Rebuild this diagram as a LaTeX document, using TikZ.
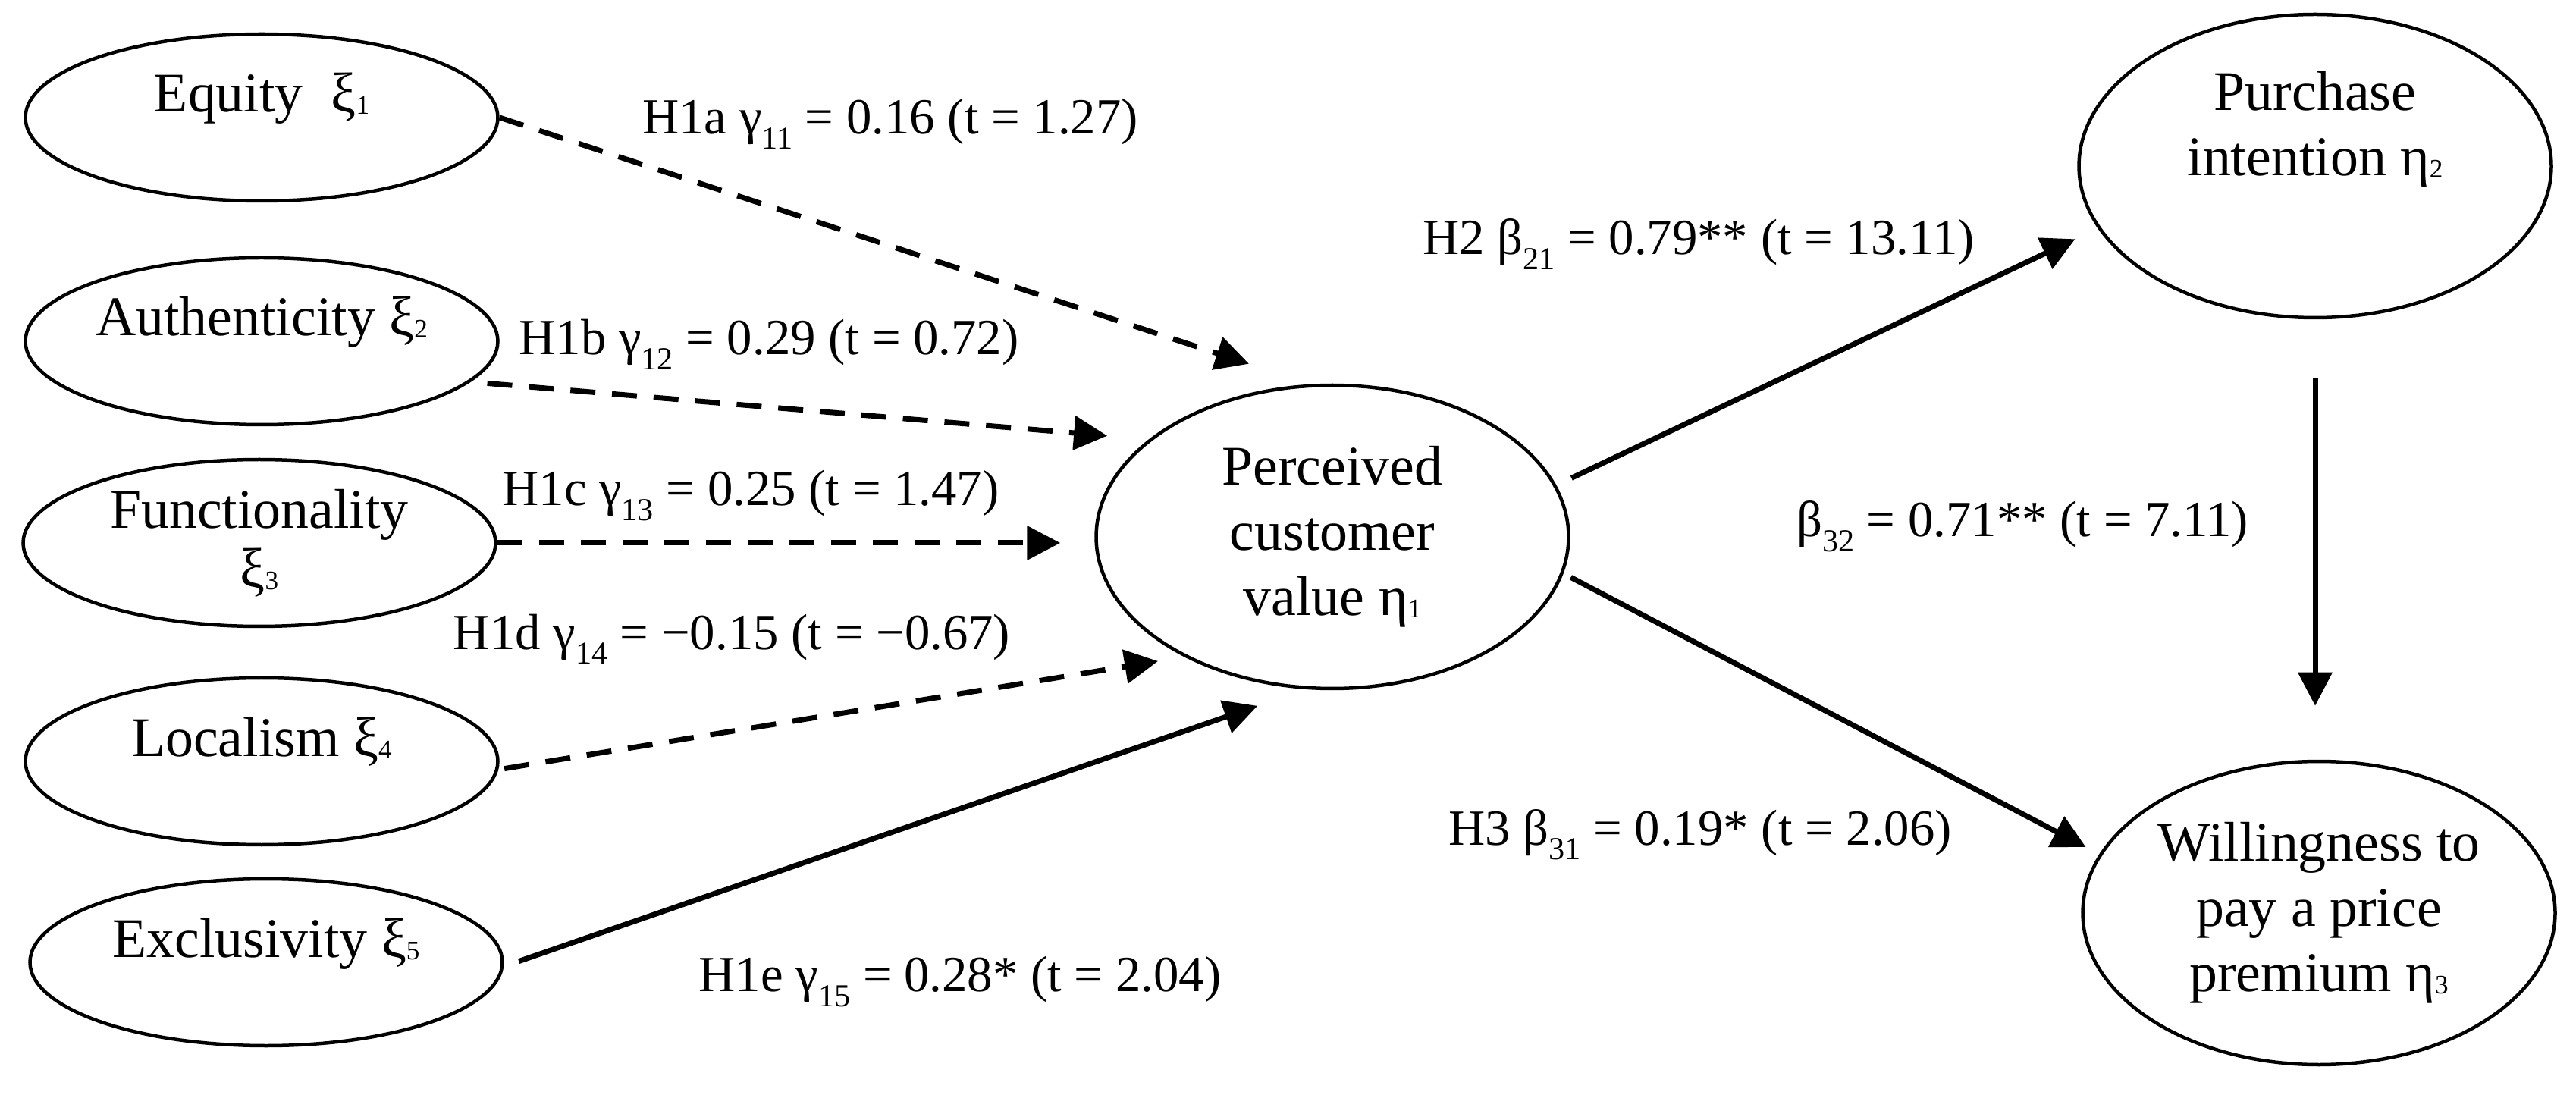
\documentclass[tikz,border=0pt]{standalone}
\usepackage{fontspec}
\setmainfont{Liberation Serif}
\usetikzlibrary{shapes.geometric,arrows.meta}
\newcommand{\nsub}[1]{\raisebox{-0.03cm}{\fontsize{10}{10}\selectfont #1}}
\newcommand{\lsub}[1]{\raisebox{-0.2cm}{\fontsize{12}{12}\selectfont #1}}
\begin{document}
\begin{tikzpicture}[>={Triangle[length=0.44cm,width=0.44cm]},
	latent/.style={ellipse,draw,line width=0.045cm,inner sep=0pt,minimum width=6.23cm,minimum height=4cm,font=\fontsize{21}{24.5}\selectfont},
	factor/.style={latent,minimum height=2.2cm},
	oneline/.style={factor,text height=0.5cm,text depth=0.64cm},
	sig/.style={->,line width=0.07cm},
	nsig/.style={sig,dash pattern=on 0.33cm off 0.22cm},
	coef/.style={anchor=base,inner sep=0pt,font=\fontsize{19}{22}\selectfont}]
		\useasboundingbox (0,0) rectangle (33.97,-14.44);
		\node[oneline] (eq) at (3.45,-1.55) {Equity~~ξ\nsub{1}};
		\node[oneline] (au) at (3.45,-4.50) {Authenticity ξ\nsub{2}};
		\node[factor,align=center] (fn) at (3.42,-7.16) {Functionality\\[-0.08cm]ξ\nsub{3}};
		\node[oneline] (lo) at (3.45,-10.04) {Localism ξ\nsub{4}};
		\node[oneline] (ex) at (3.51,-12.69) {Exclusivity ξ\nsub{5}};
		\node[latent,align=center] (pcv) at (17.57,-7.08) {Perceived\\customer\\value η\nsub{1}};
		\node[latent,align=center] (pi) at (30.53,-2.19) {Purchase\\intention η\nsub{2}\\\strut};
		\node[latent,align=center] (wp) at (30.58,-12.04) {Willingness to\\pay a price\\premium η\nsub{3}};
		\draw[nsig,shorten >=0.86cm] (eq.east) -- (pcv.98);
		\draw[nsig,shorten <=0.22cm,shorten >=0.55cm] (au.349.5) -- (pcv.152);
		\draw[nsig,shorten >=0.45cm] (fn.east) -- (fn.east -| pcv.west);
		\draw[nsig,shorten <=0.08cm,shorten >=0.35cm] (lo.-2.8) -- (pcv.219.3);
		\draw[sig,shorten <=0.21cm,shorten >=0.67cm] (ex.-1.1) -- (pcv.260.8);
		\draw[sig,shorten <=0.22cm,shorten >=0.33cm] (pcv.13.5) -- (pi.196.8);
		\draw[sig,shorten <=0.11cm,shorten >=0.20cm] (pcv.-9.2) -- (wp.165.9);
		\draw[sig,shorten <=0.78cm,shorten >=0.71cm] (pi.south) -- (pi.south |- wp.north);
		\node[coef] (c11) at (11.74,-1.77) {H1a γ\lsub{11} = 0.16 (t = 1.27)};
		\node[coef] (c12) at (10.14,-4.68) {H1b γ\lsub{12} = 0.29 (t = 0.72)};
		\node[coef] (c13) at (9.90,-6.67) {H1c γ\lsub{13} = 0.25 (t = 1.47)};
		\node[coef] (c14) at (9.65,-8.56) {H1d γ\lsub{14} = −0.15 (t = −0.67)};
		\node[coef] (c15) at (12.66,-13.07) {H1e γ\lsub{15} = 0.28* (t = 2.04)};
		\node[coef] (b21) at (22.40,-3.36) {H2 β\lsub{21} = 0.79** (t = 13.11)};
		\node[coef] (b32) at (26.67,-7.08) {β\lsub{32} = 0.71** (t = 7.11)};
		\node[coef] (b31) at (22.42,-11.14) {H3 β\lsub{31} = 0.19* (t = 2.06)};
		\end{tikzpicture}
\end{document}
